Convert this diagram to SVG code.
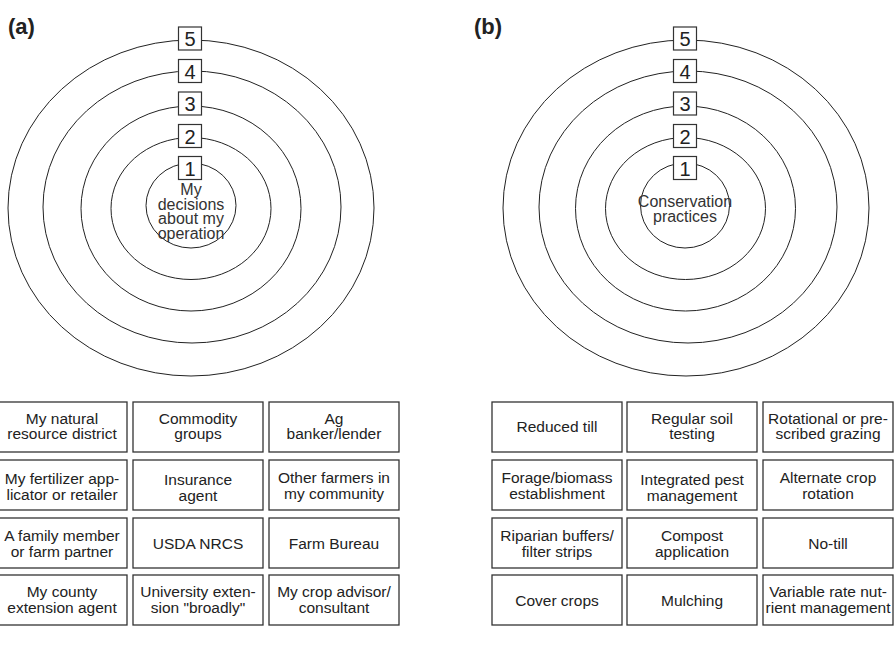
<svg xmlns="http://www.w3.org/2000/svg" width="895" height="648" viewBox="0 0 895 648">
<style>
.ring{fill:none;stroke:#222;stroke-width:1}
.num rect{fill:#fff;stroke:#333;stroke-width:1.2}
.num text{font-family:"Liberation Sans",Arial,sans-serif;font-size:20px;fill:#222;text-anchor:middle}
.ctr{font-family:"Liberation Sans",Arial,sans-serif;font-size:16px;fill:#333;text-anchor:middle}
.cell rect{fill:#fff;stroke:#333;stroke-width:1.3}
.cell text{font-family:"Liberation Sans",Arial,sans-serif;font-size:15.5px;fill:#222;text-anchor:middle}
.title{font-family:"Liberation Sans",Arial,sans-serif;font-size:22px;font-weight:bold;fill:#222}
</style>
<rect width="895" height="648" fill="#fff"/>
<text class="title" x="8" y="34">(a)</text>
<text class="title" x="474" y="34">(b)</text>

<g id="panel-a-rings">
<ellipse class="ring" cx="191" cy="208" rx="183" ry="168"/>
<ellipse class="ring" cx="192" cy="207" rx="149" ry="136"/>
<ellipse class="ring" cx="191" cy="208.5" rx="110" ry="102.5"/>
<ellipse class="ring" cx="191" cy="208.5" rx="80" ry="71"/>
<ellipse class="ring" cx="191" cy="205.5" rx="45" ry="42.5"/>
</g>
<g id="panel-a-center"><text class="ctr" x="191" y="195">My</text><text class="ctr" x="191" y="209.5">decisions</text><text class="ctr" x="191" y="224">about my</text><text class="ctr" x="191" y="238.5">operation</text></g>
<g id="a-n5" class="num"><rect x="178.5" y="27" width="23" height="23"/><text x="190" y="46">5</text></g>
<g id="a-n4" class="num"><rect x="178.5" y="59.5" width="23" height="23"/><text x="190" y="78.5">4</text></g>
<g id="a-n3" class="num"><rect x="178.5" y="92" width="23" height="23"/><text x="190" y="111">3</text></g>
<g id="a-n2" class="num"><rect x="178.5" y="124.5" width="23" height="23"/><text x="190" y="143.5">2</text></g>
<g id="a-n1" class="num"><rect x="178.5" y="156.5" width="23" height="23"/><text x="190" y="175.5">1</text></g>

<g id="panel-b-rings">
<ellipse class="ring" cx="686" cy="208" rx="183" ry="168"/>
<ellipse class="ring" cx="688" cy="207" rx="149" ry="136"/>
<ellipse class="ring" cx="685.5" cy="208.5" rx="110" ry="102.5"/>
<ellipse class="ring" cx="685.5" cy="208.5" rx="80" ry="71"/>
<ellipse class="ring" cx="685" cy="205.5" rx="44.5" ry="42.5"/>
</g>
<g id="panel-b-center"><text class="ctr" x="685" y="207">Conservation</text><text class="ctr" x="685" y="222">practices</text></g>
<g id="b-n5" class="num"><rect x="673.5" y="27" width="23" height="23"/><text x="685" y="46">5</text></g>
<g id="b-n4" class="num"><rect x="673.5" y="59.5" width="23" height="23"/><text x="685" y="78.5">4</text></g>
<g id="b-n3" class="num"><rect x="673.5" y="92" width="23" height="23"/><text x="685" y="111">3</text></g>
<g id="b-n2" class="num"><rect x="673.5" y="124.5" width="23" height="23"/><text x="685" y="143.5">2</text></g>
<g id="b-n1" class="num"><rect x="673.5" y="156.5" width="23" height="23"/><text x="685" y="175.5">1</text></g>

<g id="connectors"/>

<g id="a-r1c1" class="cell"><rect x="-3" y="402" width="130" height="50"/><text x="62" y="423.5">My natural</text><text x="62" y="439">resource district</text></g>
<g id="a-r1c2" class="cell"><rect x="133" y="402" width="130" height="50"/><text x="198" y="423.5">Commodity</text><text x="198" y="439">groups</text></g>
<g id="a-r1c3" class="cell"><rect x="269" y="402" width="130" height="50"/><text x="334" y="423.5">Ag</text><text x="334" y="439">banker/lender</text></g>
<g id="a-r2c1" class="cell"><rect x="-3" y="460" width="130" height="50"/><text x="62" y="483.5">My fertilizer app-</text><text x="62" y="499.5">licator or retailer</text></g>
<g id="a-r2c2" class="cell"><rect x="133" y="460" width="130" height="50"/><text x="198" y="484.5">Insurance</text><text x="198" y="500.5">agent</text></g>
<g id="a-r2c3" class="cell"><rect x="269" y="460" width="130" height="50"/><text x="334" y="482.5">Other farmers in</text><text x="334" y="498.5">my community</text></g>
<g id="a-r3c1" class="cell"><rect x="-3" y="518" width="130" height="50"/><text x="62" y="540.5">A family member</text><text x="62" y="556.5">or farm partner</text></g>
<g id="a-r3c2" class="cell"><rect x="133" y="518" width="130" height="50"/><text x="198" y="549">USDA NRCS</text></g>
<g id="a-r3c3" class="cell"><rect x="269" y="518" width="130" height="50"/><text x="334" y="548.5">Farm Bureau</text></g>
<g id="a-r4c1" class="cell"><rect x="-3" y="575" width="130" height="50"/><text x="62" y="596.5">My county</text><text x="62" y="612.5">extension agent</text></g>
<g id="a-r4c2" class="cell"><rect x="133" y="575" width="130" height="50"/><text x="198" y="596.5">University exten-</text><text x="198" y="612.5">sion "broadly"</text></g>
<g id="a-r4c3" class="cell"><rect x="269" y="575" width="130" height="50"/><text x="334" y="596.5">My crop advisor/</text><text x="334" y="612.5">consultant</text></g>

<g id="b-r1c1" class="cell"><rect x="492" y="402" width="130" height="50"/><text x="557" y="432">Reduced till</text></g>
<g id="b-r1c2" class="cell"><rect x="627" y="402" width="130" height="50"/><text x="692" y="423.5">Regular soil</text><text x="692" y="439">testing</text></g>
<g id="b-r1c3" class="cell"><rect x="763" y="402" width="130" height="50"/><text x="828" y="423.5">Rotational or pre-</text><text x="828" y="439">scribed grazing</text></g>
<g id="b-r2c1" class="cell"><rect x="492" y="460" width="130" height="50"/><text x="557" y="482.5">Forage/biomass</text><text x="557" y="498.5">establishment</text></g>
<g id="b-r2c2" class="cell"><rect x="627" y="460" width="130" height="50"/><text x="692" y="484.5">Integrated pest</text><text x="692" y="500.5">management</text></g>
<g id="b-r2c3" class="cell"><rect x="763" y="460" width="130" height="50"/><text x="828" y="482.5">Alternate crop</text><text x="828" y="498.5">rotation</text></g>
<g id="b-r3c1" class="cell"><rect x="492" y="518" width="130" height="50"/><text x="557" y="540.5">Riparian buffers/</text><text x="557" y="556.5">filter strips</text></g>
<g id="b-r3c2" class="cell"><rect x="627" y="518" width="130" height="50"/><text x="692" y="540.5">Compost</text><text x="692" y="556.5">application</text></g>
<g id="b-r3c3" class="cell"><rect x="763" y="518" width="130" height="50"/><text x="828" y="548.5">No-till</text></g>
<g id="b-r4c1" class="cell"><rect x="492" y="575" width="130" height="50"/><text x="557" y="606">Cover crops</text></g>
<g id="b-r4c2" class="cell"><rect x="627" y="575" width="130" height="50"/><text x="692" y="606">Mulching</text></g>
<g id="b-r4c3" class="cell"><rect x="763" y="575" width="130" height="50"/><text x="828" y="596.5">Variable rate nut-</text><text x="828" y="612.5">rient management</text></g>
</svg>
